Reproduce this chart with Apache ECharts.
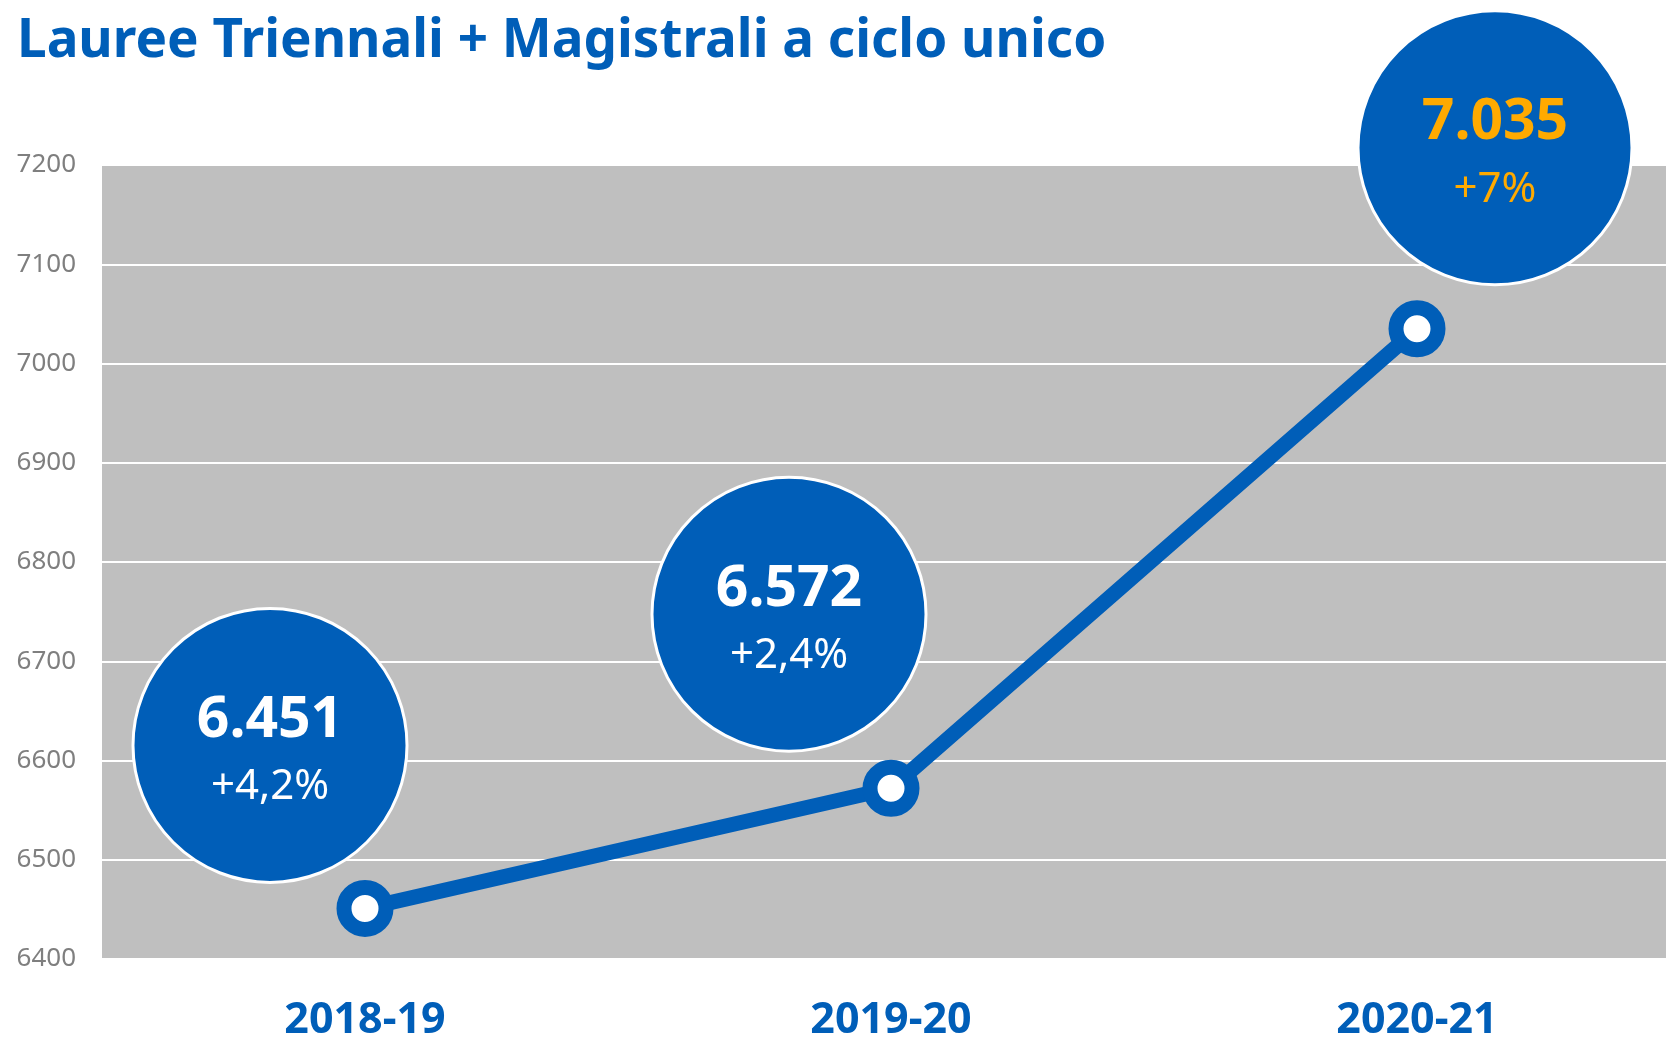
<!DOCTYPE html>
<html>
<head>
<meta charset="utf-8">
<title>Lauree Triennali + Magistrali a ciclo unico</title>
<script src="https://cdn.jsdelivr.net/npm/echarts@6/dist/echarts.min.js"></script>
<style>
    html, body { margin: 0; padding: 0; background: #fff; }
    #main { width: 1666px; height: 1040px; }
</style>
</head>
<body>
<div id="main"></div>
<script>
var years = ['2018-19', '2019-20', '2020-21'];
var laureati = [6451, 6572, 7035];
var crescita = [4.2, 2.4, 7];
var yTicks = [6400, 7200, 100];

var blu = '#005EB8';
var arancio = '#FFAA00';

// formato italiano: 6.451 / +4,2%
function fmtNum(v) {
    return String(v).replace(/\B(?=(\d{3})+(?!\d))/g, '.');
}
function fmtPct(v) {
    return '+' + String(v).replace('.', ',') + '%';
}

// spostamento delle bolle rispetto al punto (px)
var bubbleShift = [[-95, -163], [-102, -174], [78, -181]];

var myChart = echarts.init(document.getElementById('main'));

var bubbles = laureati.map(function (v, i) {
    var item = {
        value: v,
        symbolOffset: bubbleShift[i]
    };
    if (i == laureati.length - 1) {
        item.label = {
            rich: {
                a: { color: arancio },
                b: { color: arancio }
            }
        };
    }
    return item;
});

var option = {
    backgroundColor: '#fff',
    title: {
        text: 'Lauree Triennali + Magistrali a ciclo unico',
        left: 12,
        top: 10,
        textStyle: {
            fontFamily: 'Noto Sans',
            fontWeight: 'bold',
            fontSize: 53,
            color: blu
        }
    },
    grid: {
        left: 102,
        right: -14,
        top: 165,
        bottom: 81,
        outerBoundsMode: 'none',
        containLabel: false,
        show: true,
        backgroundColor: '#BFBFBF',
        borderWidth: 0
    },
    xAxis: {
        type: 'category',
        data: years,
        boundaryGap: true,
        axisLine: { show: false },
        axisTick: { show: false },
        axisLabel: {
            margin: 40,
            fontFamily: 'Noto Sans',
            fontWeight: 'bold',
            fontSize: 43,
            color: blu
        }
    },
    yAxis: {
        type: 'value',
        min: yTicks[0],
        max: yTicks[1],
        interval: yTicks[2],
        axisLine: { show: false },
        axisTick: { show: false },
        axisLabel: {
            margin: 26,
            fontFamily: 'Noto Sans',
            fontSize: 26,
            color: '#7F7F7F',
            formatter: function (v) { return String(v); }
        },
        splitLine: {
            lineStyle: { color: '#FFFFFF', width: 2 }
        }
    },
    series: [{
        name: 'Laureati',
        type: 'line',
        data: laureati,
        symbol: 'circle',
        symbolSize: 42,
        lineStyle: { color: blu, width: 15 },
        itemStyle: { color: '#FFFFFF', borderColor: blu, borderWidth: 15 },
        z: 3
    }, {
        name: 'Bolle',
        type: 'scatter',
        data: bubbles,
        symbol: 'circle',
        symbolSize: 274,
        clip: false,
        itemStyle: { color: blu, borderColor: '#FFFFFF', borderWidth: 3, opacity: 1 },
        label: {
            show: true,
            position: 'inside',
            offset: [0, 2],
            formatter: function (p) {
                return '{a|' + fmtNum(p.value) + '}\n{b|' + fmtPct(crescita[p.dataIndex]) + '}';
            },
            rich: {
                a: {
                    fontFamily: 'Noto Sans',
                    fontWeight: 'bold',
                    fontSize: 57,
                    lineHeight: 80,
                    color: '#FFFFFF'
                },
                b: {
                    fontFamily: 'Noto Sans',
                    fontSize: 42,
                    lineHeight: 54,
                    color: '#FFFFFF'
                }
            }
        },
        emphasis: { disabled: true },
        z: 4
    }]
};

myChart.setOption(option);
</script>
</body>
</html>
